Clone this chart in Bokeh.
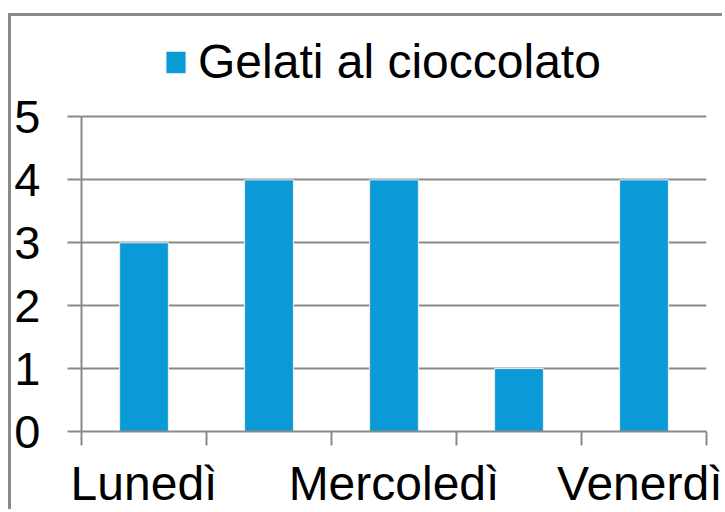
from bokeh.plotting import figure
from bokeh.models import Range1d, FixedTicker, Legend, LegendItem, ColumnDataSource
from bokeh.embed import file_html
from bokeh.resources import INLINE

# ---- data ----
categories = ["Lunedì", "Martedì", "Mercoledì", "Giovedì", "Venerdì"]
values = [3, 4, 4, 1, 4]
series_name = "Gelati al cioccolato"
y_ticks = [0, 1, 2, 3, 4, 5]
shown_labels = categories[::2]   # every other category label is shown

FONT = "Liberation Sans"
GRAY = "#898989"
BLUE = "#0A9AD7"

x_pos = [i + 0.5 for i in range(len(categories))]
source = ColumnDataSource(data=dict(x=x_pos, top=values, cat=categories))

p = figure(
    width=714, height=496,
    x_range=Range1d(0, len(categories)),
    y_range=Range1d(0, 6.5176),
    output_backend="svg", toolbar_location=None, tools="",
    min_border_left=70, min_border_right=19,
    min_border_top=5, min_border_bottom=81,
    background_fill_color="white", border_fill_color="white",
)
p.styles = {
    "border-top": "3px solid #8a8a8a",
    "border-left": "3px solid #8a8a8a",
    "margin-top": "13px",
    "margin-left": "8px",
    "margin-bottom": "-8px",
    "margin-right": "-8px",
}
p.outline_line_color = None

r = p.vbar(x="x", top="top", width=0.39, source=source,
           fill_color=BLUE, line_color="#eeeeee", line_width=1)

# y axis
p.yaxis.ticker = FixedTicker(ticks=y_ticks, minor_ticks=[])
p.yaxis.bounds = (y_ticks[0], y_ticks[-1])
p.yaxis.major_tick_out = 14
p.yaxis.major_tick_in = 0
p.yaxis.major_tick_line_color = GRAY
p.yaxis.major_tick_line_width = 2
p.yaxis.axis_line_color = GRAY
p.yaxis.axis_line_width = 2
p.yaxis.major_label_text_font = FONT
p.yaxis.major_label_text_font_size = "47px"
p.yaxis.major_label_text_color = "black"
p.yaxis.major_label_standoff = 27

# x axis: labels at category centres, ticks at category boundaries
label_pos = [x_pos[categories.index(c)] for c in shown_labels]
p.xaxis.ticker = FixedTicker(ticks=label_pos, minor_ticks=list(range(len(categories) + 1)))
p.xaxis.major_label_overrides = {xp: c for xp, c in zip(label_pos, shown_labels)}
p.xaxis.major_tick_out = 0
p.xaxis.major_tick_in = 0
p.xaxis.major_tick_line_color = None
p.xaxis.minor_tick_out = 14
p.xaxis.minor_tick_in = 0
p.xaxis.minor_tick_line_color = GRAY
p.xaxis.minor_tick_line_width = 2
p.xaxis.axis_line_color = GRAY
p.xaxis.axis_line_width = 2
p.xaxis.major_label_text_font = FONT
p.xaxis.major_label_text_font_size = "48px"
p.xaxis.major_label_text_color = "black"
p.xaxis.major_label_standoff = 11

p.xgrid.grid_line_color = None
p.ygrid.ticker = FixedTicker(ticks=y_ticks, minor_ticks=[])
p.ygrid.grid_line_color = GRAY
p.ygrid.grid_line_width = 2

legend = Legend(
    items=[LegendItem(label=series_name, renderers=[r])],
    location=(82, 342), orientation="horizontal",
    label_text_font=FONT, label_text_font_size="48px", label_text_color="black",
    glyph_width=25, glyph_height=28, label_standoff=10,
    padding=0, margin=0, spacing=0,
    border_line_color=None, background_fill_alpha=0,
)
p.add_layout(legend)

open("out.html", "w").write(file_html(p, INLINE))
